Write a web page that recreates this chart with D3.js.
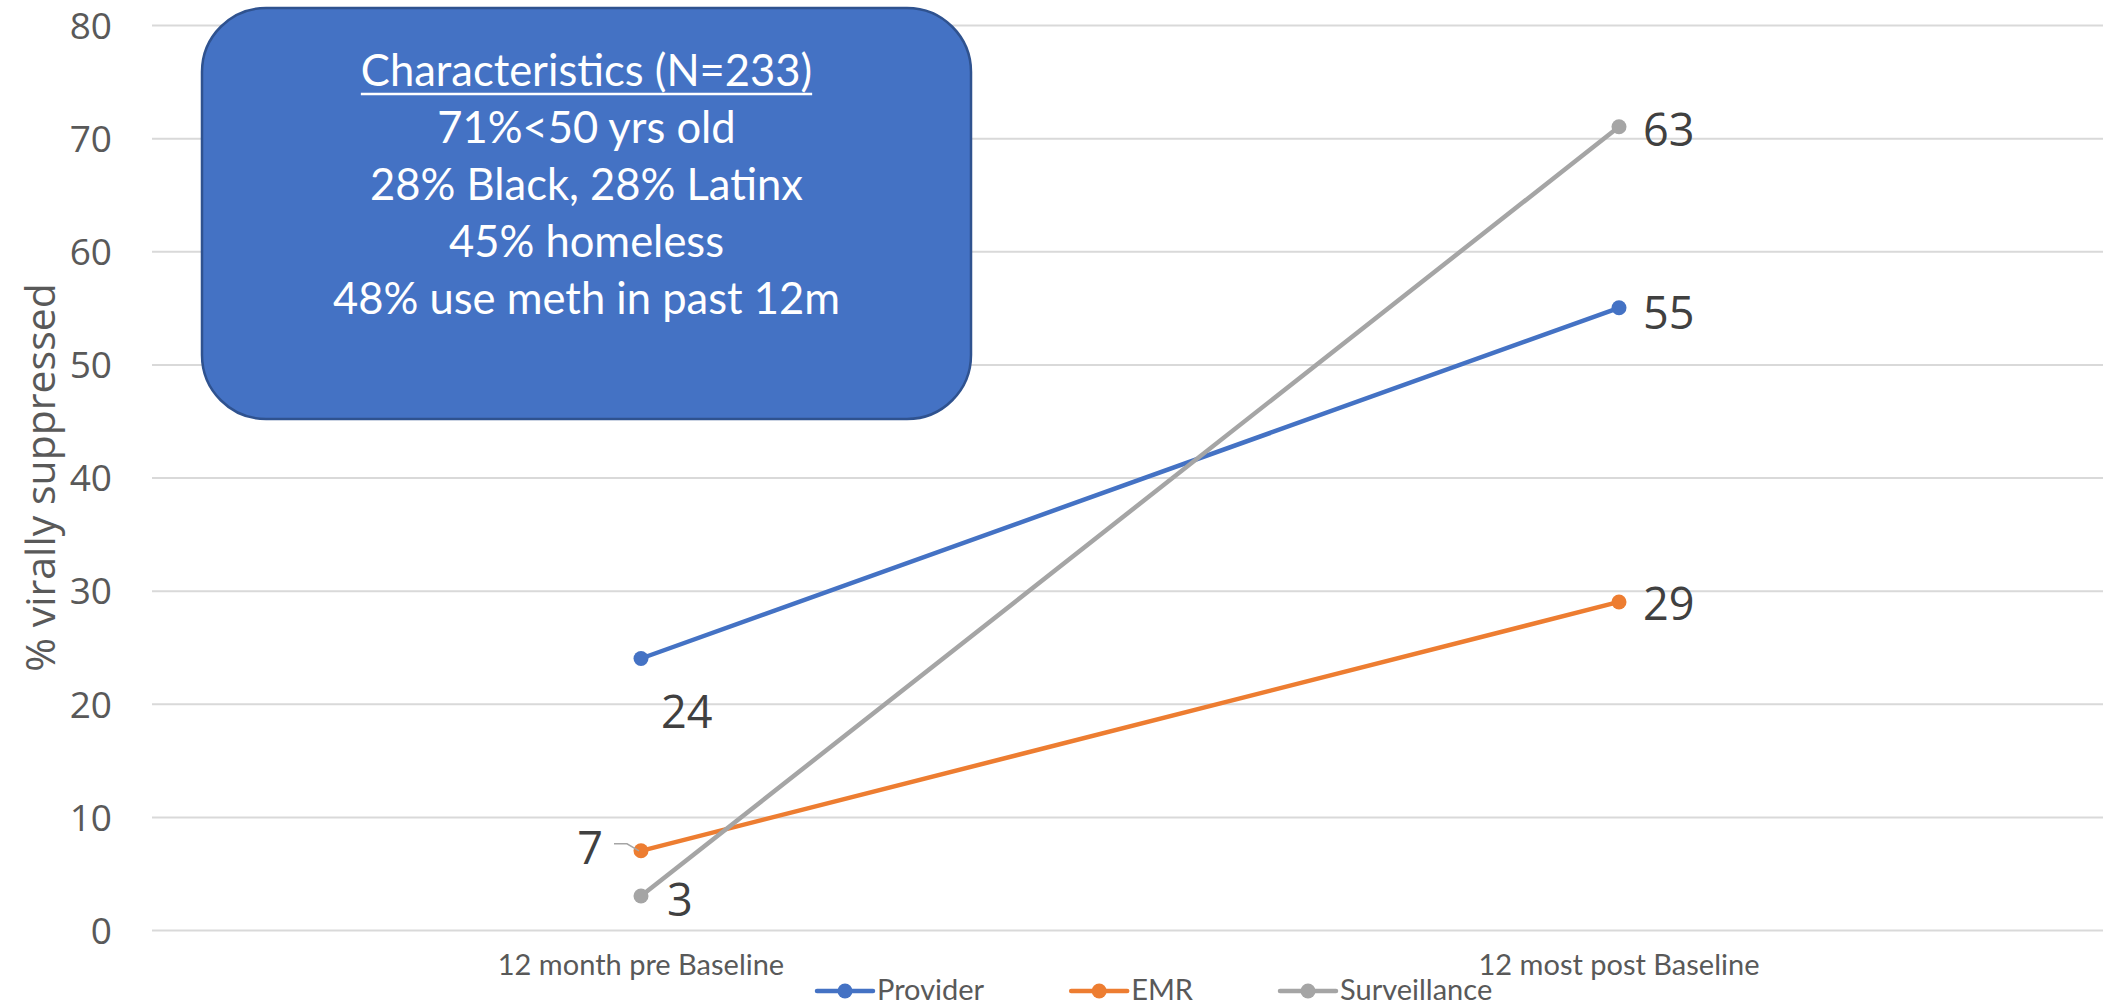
<!DOCTYPE html>
<html>
<head>
<meta charset="utf-8">
<script src="https://cdn.jsdelivr.net/npm/d3@7"></script>
<style>
  html, body { margin: 0; padding: 0; background: #ffffff; overflow: hidden; }
  svg { display: block; }
</style>
</head>
<body>
<svg id="chart" width="2103" height="1008"></svg>
<script>
// ---------------- DATA ----------------
const categories = ["12 month pre Baseline", "12 most post Baseline"];
const seriesNames = ["Provider", "EMR", "Surveillance"];
const providerValues = [24, 55];
const emrValues = [7, 29];
const surveillanceValues = [3, 71];
const providerLabels = ["24", "55"];
const emrLabels = ["7", "29"];
const surveillanceLabels = ["3", "63"];
const yTicks = [0, 10, 20, 30, 40, 50, 60, 70, 80];
const yAxisTitle = "% virally suppressed";
const boxTitle = "Characteristics (N=233)";
const boxLines = ["71%<50 yrs old", "28% Black, 28% Latinx", "45% homeless", "48% use meth in past 12m"];

// ---------------- STYLE ----------------
const colors = { Provider: "#4472C4", EMR: "#ED7D31", Surveillance: "#A5A5A5" };
const calibriLike = "Lato, 'Noto Sans', sans-serif";
const segoeLike = "'Open Sans', 'Noto Sans', sans-serif";
// label placement per series/point: [dx, dy, anchor]
const labelPlacement = {
  Provider: [[20, 52, "start"], [24, 4, "start"]],
  EMR: [[-38, -4, "end"], [24, 1, "start"]],
  Surveillance: [[26, 2, "start"], [24, 2, "start"]]
};

const svg = d3.select("#chart");
const plot = { left: 152, right: 2108, top: 25, bottom: 930 };

const x = d3.scaleBand().domain(categories).range([plot.left, plot.right]).padding(0);
const xc = c => x(c) + x.bandwidth() / 2;
const y = d3.scaleLinear().domain([0, 80]).range([plot.bottom, plot.top]);

// gridlines + tick labels
const yAxis = d3.axisLeft(y).tickValues(yTicks).tickSize(-(plot.right - plot.left)).tickPadding(40);
const gy = svg.append("g").attr("transform", `translate(${plot.left},0)`).call(yAxis);
gy.select(".domain").remove();
gy.selectAll(".tick line").attr("stroke", "#D9D9D9").attr("stroke-width", 2);
gy.selectAll(".tick text")
  .attr("fill", "#595959")
  .attr("dy", "0.36em")
  .style("font-family", segoeLike)
  .style("font-size", "37px");

// y axis title
svg.append("text")
  .attr("transform", `translate(39,${(plot.top + plot.bottom) / 2}) rotate(-90)`)
  .attr("text-anchor", "middle")
  .attr("dominant-baseline", "central")
  .attr("fill", "#595959")
  .style("font-family", segoeLike)
  .style("font-size", "41px")
  .text(yAxisTitle);

// x category labels
svg.append("g").selectAll("text").data(categories).join("text")
  .attr("x", d => xc(d))
  .attr("y", 975)
  .attr("text-anchor", "middle")
  .attr("fill", "#595959")
  .style("font-family", calibriLike)
  .style("font-size", "29px")
  .text(d => d);

// characteristics box
const box = { x: 202, y: 8, w: 769, h: 411, r: 64 };
svg.append("rect")
  .attr("x", box.x).attr("y", box.y).attr("width", box.w).attr("height", box.h)
  .attr("rx", box.r).attr("ry", box.r)
  .attr("fill", "#4472C4").attr("stroke", "#2F528F").attr("stroke-width", 2.5);
const boxCx = box.x + box.w / 2;
const titleText = svg.append("text")
  .attr("x", boxCx).attr("y", 86)
  .attr("text-anchor", "middle").attr("fill", "#ffffff")
  .style("font-family", calibriLike).style("font-size", "43.5px")
  .text(boxTitle);
const tw = titleText.node().getComputedTextLength();
svg.append("line")
  .attr("x1", boxCx - tw / 2).attr("x2", boxCx + tw / 2)
  .attr("y1", 94).attr("y2", 94)
  .attr("stroke", "#ffffff").attr("stroke-width", 2.5);
svg.append("g").selectAll("text").data(boxLines).join("text")
  .attr("x", boxCx)
  .attr("y", (d, i) => 143 + i * 57)
  .attr("text-anchor", "middle").attr("fill", "#ffffff")
  .style("font-family", calibriLike).style("font-size", "43.5px")
  .text(d => d);

// series
const series = [
  { name: "Provider", values: providerValues, labels: providerLabels },
  { name: "EMR", values: emrValues, labels: emrLabels },
  { name: "Surveillance", values: surveillanceValues, labels: surveillanceLabels }
];
const line = d3.line().x(d => xc(d.c)).y(d => y(d.v));
series.forEach(s => {
  const pts = categories.map((c, i) => ({ c, v: s.values[i], label: s.labels[i], i }));
  const g = svg.append("g");
  g.append("path").datum(pts)
    .attr("d", line).attr("fill", "none")
    .attr("stroke", colors[s.name]).attr("stroke-width", 4.5).attr("stroke-linecap", "round");
  g.selectAll("circle").data(pts).join("circle")
    .attr("cx", d => xc(d.c)).attr("cy", d => y(d.v)).attr("r", 7.5)
    .attr("fill", colors[s.name]);
  g.selectAll("text").data(pts).join("text")
    .attr("x", d => xc(d.c) + labelPlacement[s.name][d.i][0])
    .attr("y", d => y(d.v) + labelPlacement[s.name][d.i][1])
    .attr("text-anchor", d => labelPlacement[s.name][d.i][2])
    .attr("dominant-baseline", "central")
    .attr("fill", "#404040")
    .style("font-family", segoeLike).style("font-size", "45px")
    .text(d => d.label);
});

// leader line for the EMR "7" label
{
  const px = xc(categories[0]), py = y(emrValues[0]);
  svg.append("path")
    .attr("d", `M${px - 27},${py - 7} L${px - 14},${py - 7} L${px - 2},${py}`)
    .attr("fill", "none").attr("stroke", "#A5A5A5").attr("stroke-width", 1.5);
}

// legend
const legend = svg.append("g");
const legendY = 991;
let lx = 817;
seriesNames.forEach(name => {
  const it = legend.append("g");
  it.append("line").attr("x1", lx).attr("x2", lx + 56).attr("y1", legendY).attr("y2", legendY)
    .attr("stroke", colors[name]).attr("stroke-width", 4.5).attr("stroke-linecap", "round");
  it.append("circle").attr("cx", lx + 28).attr("cy", legendY).attr("r", 7.5).attr("fill", colors[name]);
  const t = it.append("text").attr("x", lx + 60).attr("y", 1000)
    .attr("fill", "#595959")
    .style("font-family", calibriLike).style("font-size", "29px")
    .text(name);
  lx = lx + 60 + t.node().getComputedTextLength() + 87;
});
</script>
</body>
</html>
